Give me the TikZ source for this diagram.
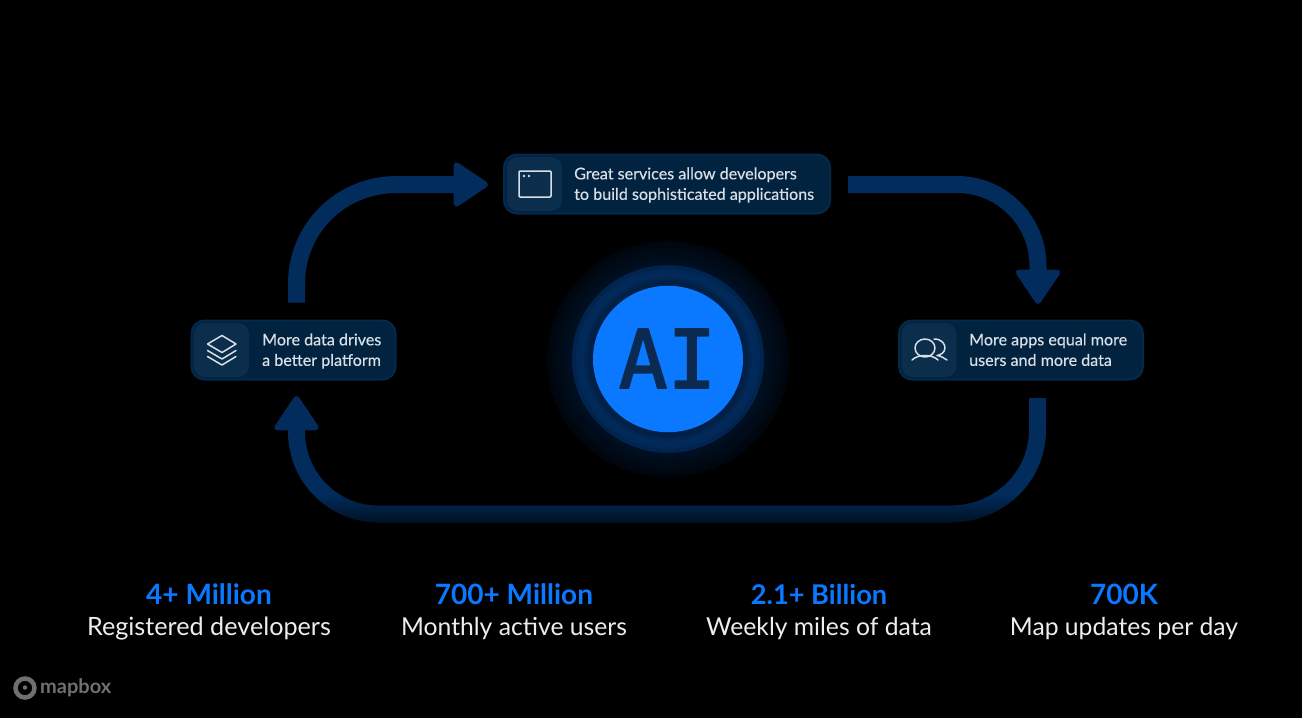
\documentclass[tikz,border=0pt]{standalone}
\usepackage{fontspec}
\setmainfont{Lato}
\newfontfamily\aifont[FakeBold=2.2]{DejaVu Sans Mono}
\newfontfamily\cardfont[FakeBold=0.35]{Lato}
\usetikzlibrary{arrows.meta,fadings,positioning,shapes.geometric}
\definecolor{bgk}{HTML}{000000}
\definecolor{flowc}{HTML}{022C5C}
\definecolor{cardc}{HTML}{02233F}
\definecolor{cardedge}{HTML}{03294B}
\definecolor{iconc}{HTML}{0B2E4C}
\definecolor{cardtxt}{HTML}{D8DFE6}
\definecolor{blue}{HTML}{0A78FF}
\definecolor{aic}{HTML}{0A2A52}
\definecolor{logoc}{HTML}{707070}
\tikzset{
 x=1pt,y=-1pt,
 flow/.style={line width=17pt,color=flowc,line join=round,
   -{Triangle[length=37pt,width=48pt,round,line width=6pt]}},
 card/.style={draw=cardedge,line width=2pt,fill=cardc,rounded corners=13pt,minimum height=59pt,inner sep=0pt},
 iconbox/.style={fill=iconc,rounded corners=11pt,minimum width=55pt,minimum height=54pt,inner sep=0pt},
 cardtext/.style={text=cardtxt,align=left,anchor=west,font=\cardfont\fontsize{16.1}{20.5}\selectfont,inner sep=0pt},
 icon/.style={draw=cardtxt,line width=1.5pt,line join=round,line cap=round},
 num/.style={text=blue,anchor=base,font=\fontsize{28}{32}\selectfont\bfseries,inner sep=0pt},
 stat/.style={text=white!93!black,anchor=base,font=\fontsize{24.7}{30}\selectfont,inner sep=0pt},
}
\begin{document}
\begin{tikzpicture}
\useasboundingbox (0,0) rectangle (1302,718);
\fill[bgk] (0,0) rectangle (1302,718);
% centre glow
\coordinate (c) at (668,359);
\foreach \r/\cc in {121/00060D,118/000711,114/000914,110/000B18,106/000C1B,102/000E1F,98/000F22}{
  \definecolor{tmpc}{HTML}{\cc}\fill[tmpc] (c) ellipse[x radius=\r pt,y radius=.977*\r pt];}
\foreach \r/\cc in {96/01244E,92/012857,88/012A5A,84/012650,81/012148,78/011F44}{
  \definecolor{tmpc}{HTML}{\cc}\fill[tmpc] (c) ellipse[x radius=\r pt,y radius=.977*\r pt];}
\node[ellipse,fill=blue,minimum width=150pt,minimum height=146.5pt,inner sep=0pt] (ai) at (c) {};
\node[text=aic,line join=round,line cap=round,font=\aifont\fontsize{81}{81}\selectfont,inner sep=0pt] (ailabel) at (667.5,358.5) {AI};
% cards
\node[card,minimum width=204pt] (data) at (293.5,350) {};
\node[iconbox] (dataicon) at (221.5,350) {};
\node[cardtext] (datatext) at (262,351.5) {\strut More data drives\\\strut a better platform};
\node[card,minimum width=326pt] (serv) at (667,184) {};
\node[iconbox] (servicon) at (534.5,184) {};
\node[cardtext] (servtext) at (574,185.5) {\strut Great services allow developers\\\strut to build sophisticated applications};
\node[card,minimum width=244pt] (apps) at (1021,350) {};
\node[iconbox] (appsicon) at (929,350) {};
\node[cardtext] (appstext) at (969,351.5) {\strut More apps equal more\\\strut users and more data};
% icons
\draw[icon] (222,335.5) -- (236,344) -- (222,352.5) -- (207.5,344) -- cycle;
\draw[icon] (207.5,350.5) -- (222,359) -- (236,350.5);
\draw[icon] (207.5,356.5) -- (222,365) -- (236,356.5);
\draw[icon,rounded corners=1pt] (519,171) rectangle (551,197);
\fill[cardtxt] (524,176) circle[radius=1.4pt] (529,176) circle[radius=1.4pt];
\draw[icon] (925,348) ellipse[x radius=10pt,y radius=9pt];
\draw[icon] (912,360) .. controls (915,357) and (920,355.5) .. (925,355.5) .. controls (930,355.5) and (935,357) .. (938,360);
\draw[icon] (934,339) .. controls (942,339) and (945,344) .. (945,348) .. controls (945,352) and (941,355) .. (937,355.5) .. controls (941,356) and (944,358) .. (947,360);
% flows
\coordinate (a1s) at (296.5,302.5);
\coordinate (a1e) at (488,184.5);
\coordinate (a2s) at (848,184.5);
\coordinate (a2e) at (1038,304);
\coordinate (a3s) at (1037.5,398);
\coordinate (a3e) at (296.5,396);
\draw[flow] (a1s) -- (296.5,284) .. controls (296.5,228) and (341,184.5) .. (397,184.5) -- (a1e);
\draw[flow] (a2s) -- (957,184.5) .. controls (1002,184.5) and (1038,221) .. (1038,266) -- (a2e);
\draw[flow] (a3s) -- (1037.5,430) .. controls (1037.5,476) and (1000,514) .. (950,514) -- (378,514) .. controls (333,514) and (296.5,477) .. (296.5,432) -- (a3e);
\fill[black,opacity=.65,path fading=north] (280,494) rectangle (1060,525);
% stats
\node[num] (n1) at (209,604) {4+ Million};
\node[stat,font=\fontsize{25.2}{30}\selectfont] (s1) at (209,635) {Registered developers};
\node[num] (n2) at (514,604) {700+ Million};
\node[stat] (s2) at (514,635) {Monthly active users};
\node[num,font=\fontsize{27.2}{32}\selectfont\bfseries] (n3) at (819,604) {2.1+ Billion};
\node[stat] (s3) at (819,635) {Weekly miles of data};
\node[num] (n4) at (1124,604) {700K};
\node[stat] (s4) at (1124,635) {Map updates per day};
% logo
\draw[logoc,line width=4.5pt] (25,688) circle[radius=9.5pt];
\fill[logoc] (25,687.5) circle[radius=2.2pt];
\node[text=logoc,font=\fontsize{20}{20}\selectfont\bfseries,inner sep=0pt,anchor=west] (logo) at (40,687.5) {mapbox};
\end{tikzpicture}
\end{document}
